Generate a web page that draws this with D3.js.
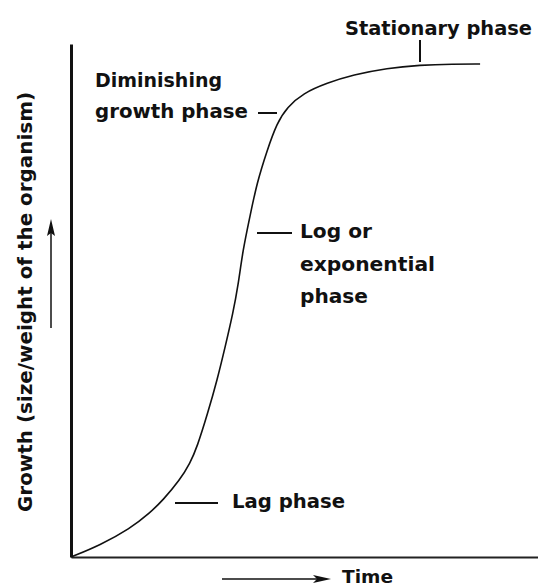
<!DOCTYPE html>
<html>
<head>
<meta charset="utf-8">
<script src="https://cdn.jsdelivr.net/npm/d3@7"></script>
<style>
  body { margin: 0; background: #fff; }
  svg { display: block; }
  text { font-family: "DejaVu Sans", sans-serif; font-weight: bold; fill: #111; }
</style>
</head>
<body>
<svg id="vis" width="538" height="587"></svg>
<script>
// growth curve (time and growth in arbitrary units)
const time = [0, 0.62, 1.26, 1.69, 1.97, 2.33, 2.55, 2.70, 2.93, 3.13, 3.30, 3.47, 3.58,
  3.68, 3.83, 3.98, 4.20, 4.41, 4.63, 4.97, 5.48, 6.04, 6.77, 7.47, 8.18, 8.76];
const growth = [0, 2.3, 5.5, 8.6, 11.1, 15.0, 18.3, 21.4, 28.1, 34.5, 40.9, 47.6, 53.0,
  59.8, 66.3, 72.9, 79.3, 84.6, 87.7, 90.4, 92.4, 94.0, 95.3, 95.9, 96.1, 96.1];

const yLabel = "Growth (size/weight of the organism)";
const xLabel = "Time";
const phaseLines = [
  ["Stationary phase"],
  ["Diminishing", "growth phase"],
  ["Log or", "exponential", "phase"],
  ["Lag phase"]
];

const svg = d3.select("#vis");

const x = d3.scaleLinear().domain([0, 10]).range([71, 538]);
const y = d3.scaleLinear().domain([0, 100]).range([557, 44]);

const data = time.map((t, i) => ({ t: t, g: growth[i] }));

// axes, no ticks
svg.append("g")
  .attr("transform", "translate(71,0)")
  .call(d3.axisLeft(y).ticks(0).tickSizeOuter(0))
  .select(".domain").attr("stroke", "#111").attr("stroke-width", 3);

svg.append("g")
  .attr("transform", "translate(0,557)")
  .call(d3.axisBottom(x).ticks(0).tickSizeOuter(0))
  .select(".domain").attr("stroke", "#222").attr("stroke-width", 2);

const line = d3.line()
  .x(d => x(d.t))
  .y(d => y(d.g))
  .curve(d3.curveBasis);

svg.append("path")
  .datum(data)
  .attr("fill", "none")
  .attr("stroke", "#111")
  .attr("stroke-width", 1.6)
  .attr("d", line);

// label layout: lines of text with leader dashes
const layout = [
  { x: 345, y: 35, dy: 31, w: [187], lead: [420, 40, 420, 62] },
  { x: 95, y: 87, dy: 31, w: [127, 153], lead: [258, 113, 277, 113] },
  { x: 300, y: 238, dy: 32.5, w: [72, 135, 68], lead: [257, 233, 292, 233] },
  { x: 232, y: 508, dy: 0, w: [113], lead: [175, 503, 218, 503] }
];

phaseLines.forEach((lines, i) => {
  const L = layout[i];
  lines.forEach((s, j) => {
    svg.append("text")
      .attr("x", L.x)
      .attr("y", L.y + j * L.dy)
      .attr("font-size", 19)
      .attr("textLength", L.w[j])
      .attr("lengthAdjust", "spacingAndGlyphs")
      .text(s);
  });
  svg.append("line")
    .attr("x1", L.lead[0]).attr("y1", L.lead[1])
    .attr("x2", L.lead[2]).attr("y2", L.lead[3])
    .attr("stroke", "#111")
    .attr("stroke-width", 2);
});

// y axis label + arrow
svg.append("text")
  .attr("transform", "translate(32,302) rotate(-90)")
  .attr("text-anchor", "middle")
  .attr("font-size", 19)
  .attr("textLength", 420)
  .attr("lengthAdjust", "spacingAndGlyphs")
  .text(yLabel);

svg.append("line")
  .attr("x1", 51).attr("y1", 328).attr("x2", 51).attr("y2", 230)
  .attr("stroke", "#111").attr("stroke-width", 1.5);
svg.append("path")
  .attr("d", "M51,219 L55,236 L51,233 L47,236 Z")
  .attr("fill", "#111");

// x axis label + arrow
svg.append("line")
  .attr("x1", 222).attr("y1", 579).attr("x2", 320).attr("y2", 579)
  .attr("stroke", "#111").attr("stroke-width", 1.5);
svg.append("path")
  .attr("d", "M331,579 L313,575 L317,579 L313,583 Z")
  .attr("fill", "#111");

svg.append("text")
  .attr("x", 342)
  .attr("y", 583)
  .attr("font-size", 18)
  .attr("textLength", 51)
  .attr("lengthAdjust", "spacingAndGlyphs")
  .text(xLabel);
</script>
</body>
</html>
